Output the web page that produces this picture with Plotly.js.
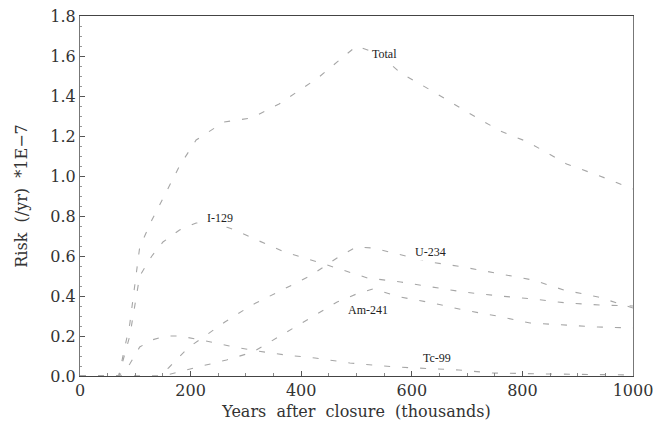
<!DOCTYPE html>
<html>
<head>
<meta charset="utf-8">
<script src="https://cdn.plot.ly/plotly-3.0.1.min.js"></script>
<style>html,body{margin:0;padding:0;background:#fff;}#chart{width:656px;height:429px;}</style>
</head>
<body>
<div id="chart"></div>
<script>
// Years after closure (thousands) and risk (/yr) * 1E-7
const totalX = [0, 70, 90, 108, 130, 150, 180, 210, 260, 310, 360, 430, 500, 540, 580, 640, 700, 760, 810, 880, 940, 1000];
const totalY = [0, 0, 0.26, 0.645, 0.78, 0.89, 1.05, 1.18, 1.27, 1.29, 1.36, 1.49, 1.65, 1.61, 1.515, 1.42, 1.32, 1.225, 1.17, 1.06, 1.0, 0.935];

const i129X = [0, 70, 90, 108, 130, 150, 180, 210, 240, 280, 320, 370, 430, 485, 520, 580, 640, 693, 760, 820, 880, 940, 1000];
const i129Y = [0, 0, 0.2, 0.5, 0.6, 0.67, 0.73, 0.765, 0.77, 0.73, 0.68, 0.62, 0.57, 0.52, 0.49, 0.47, 0.445, 0.42, 0.40, 0.385, 0.365, 0.355, 0.35];

const u234X = [0, 140, 160, 195, 262, 311, 358, 416, 470, 500, 530, 584, 633, 693, 758, 819, 875, 937, 1000];
const u234Y = [0, 0, 0.04, 0.14, 0.27, 0.355, 0.42, 0.5, 0.6, 0.645, 0.64, 0.605, 0.57, 0.545, 0.51, 0.48, 0.43, 0.395, 0.34];

const am241X = [0, 150, 213, 265, 313, 367, 420, 465, 500, 530, 579, 638, 693, 754, 814, 877, 937, 1000];
const am241Y = [0, 0, 0.045, 0.08, 0.12, 0.21, 0.295, 0.37, 0.41, 0.435, 0.395, 0.365, 0.33, 0.30, 0.265, 0.255, 0.245, 0.24];

const tc99X = [0, 70, 90, 108, 130, 154, 180, 220, 270, 320, 371, 425, 488, 571, 685, 746, 850, 1000];
const tc99Y = [0, 0, 0.06, 0.145, 0.18, 0.2, 0.2, 0.18, 0.15, 0.125, 0.105, 0.09, 0.065, 0.045, 0.03, 0.015, 0.01, 0.005];

const seriesNames = ["Total", "I-129", "U-234", "Am-241", "Tc-99"];
const labelX = [551, 253, 633, 520, 645];
const labelY = [1.61, 0.79, 0.62, 0.33, 0.09];

const xTicks = [0, 200, 400, 600, 800, 1000];
const yTicks = [0, 0.2, 0.4, 0.6, 0.8, 1.0, 1.2, 1.4, 1.6, 1.8];

const lineStyle = {color: '#a6a6a6', width: 1.1, dash: '6px,12px'};
const xs = [totalX, i129X, u234X, am241X, tc99X];
const ys = [totalY, i129Y, u234Y, am241Y, tc99Y];
const traces = xs.map((x, i) => ({
  x: x, y: ys[i], type: 'scatter', mode: 'lines', name: seriesNames[i],
  line: lineStyle, hoverinfo: 'skip'
}));

const serif = 'DejaVu Serif, serif';
const layout = {
  width: 656, height: 429,
  margin: {l: 80, r: 23, t: 16, b: 53},
  paper_bgcolor: '#fff', plot_bgcolor: '#fff',
  showlegend: false,
  font: {family: serif, size: 15, color: '#333'},
  xaxis: {
    range: [0, 1000], tickvals: xTicks, ticktext: xTicks.map(String),
    showgrid: false, zeroline: false,
    showline: true, linecolor: '#444', linewidth: 1, mirror: true,
    ticks: 'inside', ticklen: 5, tickcolor: '#555',
    minor: {dtick: 50, ticks: 'inside', ticklen: 3, tickcolor: '#888'},
    tickfont: {family: serif, size: 16, color: '#333'},
    title: {text: 'Years\u00a0\u00a0after\u00a0\u00a0closure\u00a0\u00a0(thousands)', font: {family: serif, size: 16, color: '#333'}, standoff: 6}
  },
  yaxis: {
    range: [0, 1.8], tickvals: yTicks, ticktext: yTicks.map(v => v.toFixed(1)),
    showgrid: false, zeroline: false,
    showline: true, linecolor: '#777', linewidth: 1, mirror: true,
    ticks: 'inside', ticklen: 5, tickcolor: '#555',
    minor: {dtick: 0.05, ticks: 'inside', ticklen: 2, tickcolor: '#999'},
    tickfont: {family: serif, size: 16, color: '#333'},
    title: {text: 'Risk\u00a0\u00a0(/yr)\u00a0\u00a0*1E\u22127', font: {family: serif, size: 16, color: '#333'}, standoff: 18}
  },
  annotations: seriesNames.map((n, i) => ({
    x: labelX[i], y: labelY[i], xref: 'x', yref: 'y', text: n, showarrow: false,
    font: {family: 'Liberation Serif, serif', size: 12, color: '#222'},
    bgcolor: '#fff'
  }))
};

Plotly.newPlot('chart', traces, layout, {staticPlot: true, displayModeBar: false});
</script>
</body>
</html>
